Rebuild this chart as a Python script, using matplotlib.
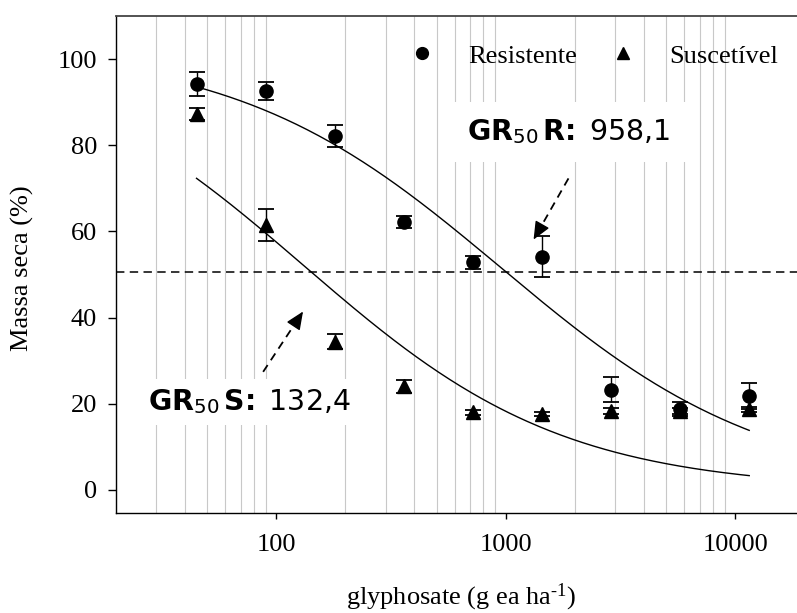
import numpy as np
import matplotlib
matplotlib.use("Agg")
import matplotlib.pyplot as plt
from matplotlib.ticker import LogLocator, NullFormatter, FixedLocator, FixedFormatter
from matplotlib.lines import Line2D

plt.rcParams['font.family'] = ['Liberation Serif', 'DejaVu Serif']
plt.rcParams['mathtext.fontset'] = 'custom'
plt.rcParams['mathtext.rm'] = 'Liberation Serif'
plt.rcParams['mathtext.it'] = 'Liberation Serif:italic'
plt.rcParams['mathtext.bf'] = 'DejaVu Sans:bold'
plt.rcParams['mathtext.sf'] = 'DejaVu Sans'

# ---- data ----
doses = [45, 90, 180, 360, 720, 1440, 2880, 5760, 11520]
res_mean = [94.2, 92.6, 82.2, 62.1, 52.8, 54.1, 23.2, 18.7, 21.8]
res_err = [2.7, 2.0, 2.5, 1.4, 1.6, 4.75, 2.9, 1.6, 3.1]
sus_mean = [87.2, 61.5, 34.4, 24.0, 18.0, 17.6, 18.2, 18.2, 18.7]
sus_err = [1.4, 3.7, 1.8, 1.4, 0.6, 0.5, 0.7, 0.7, 0.6]

# log-logistic fit parameters (upper limit d, slope b, GR50 e)
res_fit = dict(d=103.0, b=0.75, e=958.1)
sus_fit = dict(d=104.0, b=0.765, e=132.4)
ref_line = 50.5

legend_labels = ['Resistente', 'Suscetível']
x_ticks = [100, 1000, 10000]
x_ticklabels = ['100', '1000', '10000']
y_ticks = [0, 20, 40, 60, 80, 100]

fig = plt.figure(figsize=(7.97, 6.13), dpi=100)
W, H = 797, 613
ax = fig.add_axes([115.7 / W, 1 - 512.7 / H, 688.5 / W, (512.7 - 16) / H])
ax.set_xscale('log')
ax.set_xlim(20, 20000)
ax.set_ylim(-5.3, 110)

ax.set_axisbelow(True)
ax.xaxis.set_major_locator(FixedLocator(x_ticks))
ax.xaxis.set_major_formatter(FixedFormatter(x_ticklabels))
ax.xaxis.set_minor_locator(LogLocator(base=10, subs=np.arange(2, 10)))
ax.xaxis.set_minor_formatter(NullFormatter())
ax.grid(which='minor', axis='x', color='#c8c8c8', lw=0.8)
ax.grid(which='major', visible=False)
ax.set_yticks(y_ticks)
ax.tick_params(axis='x', which='major', direction='out', length=4.5, width=1.0,
               labelsize=19, pad=11)
ax.tick_params(axis='x', which='minor', length=0)
ax.tick_params(axis='y', direction='out', length=5.5, width=1.0, labelsize=19, pad=8)
for s in ['left', 'bottom']:
    ax.spines[s].set_linewidth(1.0)
ax.spines['top'].set_linewidth(1.3)
ax.spines['top'].set_color('#444444')
ax.spines['right'].set_visible(False)

# reference line
ax.axhline(ref_line, color='k', lw=1.1, ls=(0, (5.5, 3.5)), zorder=2)

# fitted curves
xx = np.geomspace(doses[0], doses[-1], 300)
for p in (res_fit, sus_fit):
    yy = p['d'] / (1 + (xx / p['e']) ** p['b'])
    ax.plot(xx, yy, color='k', lw=1.0, zorder=3)

# data with error bars
ax.errorbar(doses, res_mean, yerr=res_err, fmt='o', color='k', ms=9.5,
            capsize=5.5, elinewidth=1.0, capthick=1.3, zorder=4)
ax.errorbar(doses, sus_mean, yerr=sus_err, fmt='^', color='k', ms=9.5,
            capsize=5.5, elinewidth=1.0, capthick=1.3, zorder=4)

# legend
handles = [Line2D([], [], marker='o', ls='none', color='k', ms=8.5),
           Line2D([], [], marker='^', ls='none', color='k', ms=8.5)]
ax.legend(handles, legend_labels, ncol=2, frameon=False, fontsize=19,
          loc='center left', bbox_to_anchor=(408.7 / W, 1 - 56 / H),
          bbox_transform=fig.transFigure, borderpad=0, handlelength=1.0,
          handletextpad=1.25, columnspacing=1.25, borderaxespad=0)

# annotations
ax.text(1888, 83.1, r"$\mathbf{GR}_{\mathsf{50}}\,\mathbf{R}\!\mathbf{:}$ 958,1",
        family='DejaVu Sans', fontsize=20.5, ha='center', va='center', zorder=5,
        bbox=dict(boxstyle='square,pad=0.55', fc='white', ec='none'))
ax.text(76.5, 20.4, r"$\mathbf{GR}_{\mathsf{50}}\,\mathbf{S}\!\mathbf{:}$ 132,4",
        family='DejaVu Sans', fontsize=20.5, ha='center', va='center', zorder=5,
        bbox=dict(boxstyle='square,pad=0.3', fc='white', ec='none'))

# arrows: dashed shaft + solid filled head
arrows = [((1879, 72.3), (1324, 58.1)), ((87.8, 27.4), (131, 41.4))]
head_len_pt = 11.0
for st, tp in arrows:
    p0 = ax.transData.transform(st)
    p1 = ax.transData.transform(tp)
    d = p0 - p1
    d = d / np.hypot(*d)
    head_len_px = head_len_pt * fig.dpi / 72
    base_px = p1 + d * head_len_px
    base = ax.transData.inverted().transform(base_px)
    ax.plot([st[0], base[0]], [st[1], base[1]], color='k', lw=1.3,
            ls=(0, (4.5, 3.2)), zorder=4)
    ax.annotate('', xy=tp, xytext=(d[0] * head_len_pt * 1.02, d[1] * head_len_pt * 1.02),
                textcoords='offset points',
                arrowprops=dict(arrowstyle='-|>,head_length=0.55,head_width=0.24',
                                color='k', lw=1.0, mutation_scale=20,
                                shrinkA=0, shrinkB=0), zorder=5)

# axis labels
fig.text(22 / W, 1 - 268 / H, 'Massa seca (%)', rotation=90, fontsize=19,
         ha='center', va='center')
fig.text(461 / W, 1 - 604 / H, r'glyphosate (g ea ha$^{\text{-1}}$)', fontsize=19,
         ha='center', va='baseline')

fig.savefig('out.png', dpi=100)
